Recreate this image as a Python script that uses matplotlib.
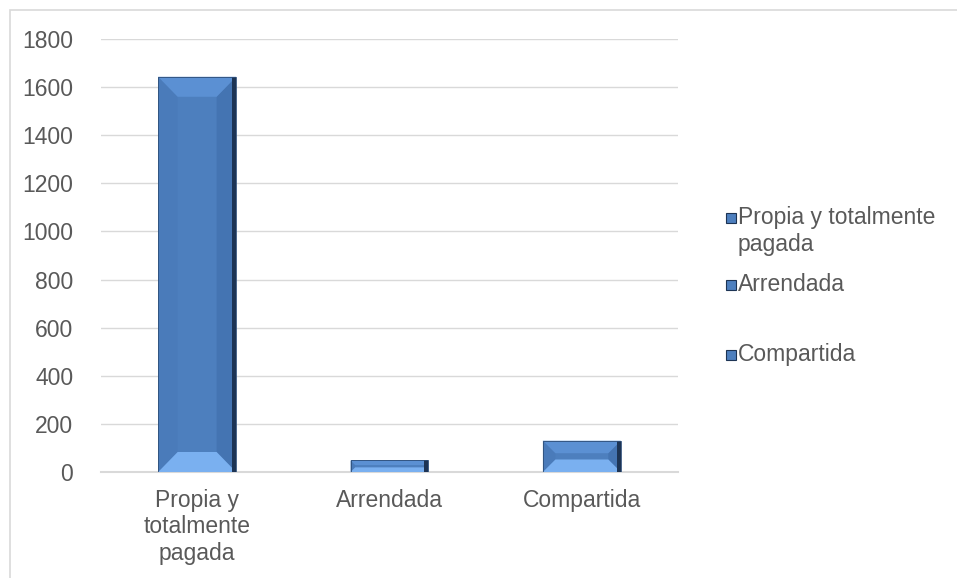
import matplotlib.pyplot as plt
from matplotlib.patches import Polygon, Rectangle

# datos
categorias = ["Propia y\ntotalmente\npagada", "Arrendada", "Compartida"]
leyenda = ["Propia y totalmente\npagada", "Arrendada", "Compartida"]
valores = [1643, 48, 130]

TXT = "#595959"
GRID = "#D9D9D9"
FACE = "#4D7FBE"
# colores del bisel: arriba, abajo, izquierda, derecha
BEVEL = ["#5B90D3", "#7AB0F0", "#4A7BBA", "#4474B2"]
EDGE_DARK = "#1D3454"

plt.rcParams["font.family"] = ["Liberation Sans", "DejaVu Sans"]


def bisel(ax, bar, bv=20, edge=4):
    # dibuja el efecto de bisel sobre una barra usando su geometría real
    x0, y0 = bar.get_x(), bar.get_y()
    x1, y1 = x0 + bar.get_width(), y0 + bar.get_height()
    to_px = ax.transData.transform
    to_dat = ax.transData.inverted().transform
    (px0, py0), (px1, py1) = to_px((x0, y0)), to_px((x1, y1))
    v = min(bv, (py1 - py0) / 2.5)
    h = min(v, (px1 - px0) / 4)
    corners = [(px0, py1), (px1, py1), (px1, py0), (px0, py0)]
    inner = [(px0 + h, py1 - v), (px1 - h, py1 - v), (px1 - h, py0 + v), (px0 + h, py0 + v)]
    sides = [
        (corners[0], corners[3], inner[3], inner[0], BEVEL[2]),
        (corners[1], corners[2], inner[2], inner[1], BEVEL[3]),
        (corners[0], corners[1], inner[1], inner[0], BEVEL[0]),
        (corners[3], corners[2], inner[2], inner[3], BEVEL[1]),
    ]
    for a, bb, c, d, col in sides:
        pts = to_dat([a, bb, c, d])
        ax.add_patch(Polygon(pts, closed=True, facecolor=col, edgecolor="none", zorder=3))
    # borde oscuro a la derecha
    e = min(edge, h)
    strip = to_dat([(px1 - e, py1), (px1, py1), (px1, py0), (px1 - e, py0)])
    ax.add_patch(Polygon(strip, closed=True, facecolor=EDGE_DARK, edgecolor="none", zorder=3.5))
    ax.add_patch(Rectangle((x0, y0), x1 - x0, y1 - y0, fill=False,
                           edgecolor="#2E4E78", lw=0.6, zorder=4))


fig = plt.figure(figsize=(9.57, 5.78), dpi=100)
ax = fig.add_axes([0.1055, 0.1834, 0.603, 0.7491])

x = list(range(len(categorias)))
barras = ax.bar(x, valores, width=0.405, color=FACE, zorder=2)

ax.set_xlim(-0.5, 2.5)
ax.set_ylim(0, 1800)
ax.set_yticks(range(0, 1801, 200))
ax.set_xticks(x)
ax.set_xticklabels(categorias, fontsize=16.5, color=TXT, linespacing=1.2)
ax.tick_params(axis="y", labelsize=16.5, labelcolor=TXT, length=0, pad=20)
ax.tick_params(axis="x", length=0, pad=12)
ax.grid(axis="y", color=GRID, lw=1, zorder=0)
for s in ["top", "right", "left"]:
    ax.spines[s].set_visible(False)
ax.spines["bottom"].set_color(GRID)
ax.spines["bottom"].set_linewidth(1.5)

fig.canvas.draw()
for bar in barras:
    bisel(ax, bar)

# leyenda manual (espaciado irregular como en el original)
leg_y = [218, 285, 355]
for lab, yy in zip(leyenda, leg_y):
    fy = 1 - yy / 578
    fig.patches.append(Rectangle((726 / 957, fy - 5 / 578), 10 / 957, 10 / 578,
                                 transform=fig.transFigure, facecolor=FACE,
                                 edgecolor=EDGE_DARK, lw=0.8))
    fig.text(738 / 957, fy + 12 / 578, lab, fontsize=16.5, color=TXT, va="top",
             linespacing=1.2)

# marco exterior
fig.patches.append(Rectangle((10 / 957, -0.1), 1.2, 1.1 - 10 / 578,
                             transform=fig.transFigure, fill=False,
                             edgecolor=GRID, lw=1.2))

fig.savefig("out.png", dpi=100)
plt.close(fig)
